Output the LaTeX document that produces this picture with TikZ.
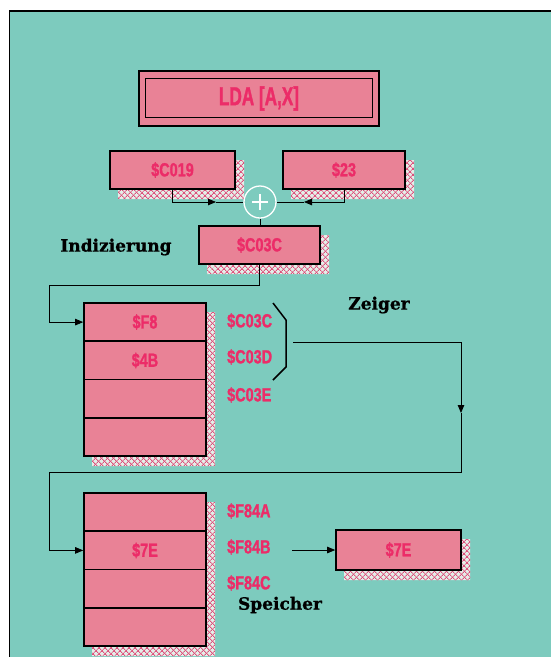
\documentclass[tikz,border=0pt]{standalone}
\usepackage{fontspec}
\usetikzlibrary{arrows.meta,patterns.meta}
\newfontfamily\condfont{Liberation Sans}[FakeStretch=0.76, BoldFeatures={FakeBold=1.2}]
\newfontfamily\ldafont{Liberation Sans}[FakeStretch=0.66, BoldFeatures={FakeBold=1.2}]
\newfontfamily\slabfont{DejaVu Serif}[BoldFeatures={FakeBold=0.8}]
\definecolor{teal1}{RGB}{125,203,190}
\definecolor{pinkfill}{RGB}{233,130,150}
\definecolor{pinktext}{RGB}{236,44,104}
\definecolor{hatch}{RGB}{222,80,124}
\definecolor{shadowbg}{RGB}{228,238,232}
\newcommand{\myshadow}[4]{%
  \path[fill=shadowbg] (#1+8,#4) -- (#3,#4) -- (#3,#2+9) -- (#3+9,#2+9) -- (#3+9,#4+10) -- (#1+8,#4+10) -- cycle;
  \path[pattern={Lines[angle=45,distance=4pt,line width=1pt]},pattern color=hatch] (#1+8,#4) -- (#3,#4) -- (#3,#2+9) -- (#3+9,#2+9) -- (#3+9,#4+10) -- (#1+8,#4+10) -- cycle;
  \path[pattern={Lines[angle=-45,distance=4pt,line width=1pt]},pattern color=hatch] (#1+8,#4) -- (#3,#4) -- (#3,#2+9) -- (#3+9,#2+9) -- (#3+9,#4+10) -- (#1+8,#4+10) -- cycle;
}
\begin{document}
\begin{tikzpicture}[x=1pt,y=-1pt,
  box/.style={draw=black, line width=1.6pt, fill=pinkfill, inner sep=0pt, text=pinktext,
    font=\condfont\bfseries\fontsize{19}{19}\selectfont},
  lbl/.style={inner sep=0pt, anchor=west, text=pinktext, font=\condfont\bfseries\fontsize{19}{19}\selectfont},
  blab/.style={inner sep=0pt, font=\slabfont\bfseries\fontsize{17}{17}\selectfont},
  conn/.style={line width=0.8pt, draw=black},
  arr/.style={conn, -{Triangle[length=8pt,width=6.5pt]}}]
\useasboundingbox (0,0) rectangle (551,657);
\fill[white] (0,0) rectangle (551,657);
\fill[teal1] (9.5,11) rectangle (551,657);
\draw[line width=1.5pt] (9.5,657) -- (9.5,11) -- (551,11);

% shadows
\myshadow{110}{151}{235}{189}
\myshadow{283}{151}{405}{189}
\myshadow{199}{226}{320}{264}
\myshadow{84}{303}{206}{456}
\myshadow{84}{493}{206}{646}
\myshadow{336}{530}{461}{570}

% instruction
\node[box, minimum width=240pt, minimum height=55pt,
  font=\ldafont\bfseries\fontsize{26}{26}\selectfont] (lda) at (259,98.5) {LDA [A,X]};
\node[draw=black, line width=1pt, minimum width=227pt, minimum height=39pt, inner sep=0pt] (ldain) at (258.5,97.5) {};

\node[box, minimum width=125pt, minimum height=38pt] (c019) at (172.5,170) {\$C019};
\node[box, minimum width=122pt, minimum height=38pt] (s23) at (344,170) {\$23};
\node[circle, draw=white, line width=1.3pt, minimum size=32pt, inner sep=0pt] (plus) at (260,202) {};
\draw[white, line width=2.6pt] ([xshift=-8pt]plus.center) -- ([xshift=8pt]plus.center);
\draw[white, line width=2.6pt] ([yshift=-8pt]plus.center) -- ([yshift=8pt]plus.center);
\node[box, minimum width=121pt, minimum height=38pt] (c03c) at (259.5,245) {\$C03C};
\node[blab] (ind) at (116,247) {Indizierung};

% pointer table
\node[box, minimum width=122pt, minimum height=38.25pt] (z1) at (145,322.1) {\$F8};
\node[box, minimum width=122pt, minimum height=38.25pt] (z2) at (145,360.4) {\$4B};
\node[box, minimum width=122pt, minimum height=38.25pt] (z3) at (145,398.6) {};
\node[box, minimum width=122pt, minimum height=38.25pt] (z4) at (145,436.9) {};
\node[lbl] (la1) at (227,321) {\$C03C};
\node[lbl] (la2) at (227,357) {\$C03D};
\node[lbl] (la3) at (227,395) {\$C03E};
\draw[line width=1.5pt] (273,303) -- (286,320) -- (286,367) -- (273,380);
\node[blab] (zeiger) at (379,305) {Zeiger};

% memory table
\node[box, minimum width=122pt, minimum height=38.25pt] (s1) at (145,512.1) {};
\node[box, minimum width=122pt, minimum height=38.25pt] (s2) at (145,550.4) {\$7E};
\node[box, minimum width=122pt, minimum height=38.25pt] (s3) at (145,588.6) {};
\node[box, minimum width=122pt, minimum height=38.25pt] (s4) at (145,626.9) {};
\node[lbl] (lb1) at (227,511) {\$F84A};
\node[lbl] (lb2) at (227,547) {\$F84B};
\node[lbl] (lb3) at (227,583) {\$F84C};
\node[blab] (speicher) at (280,605) {Speicher};
\node[box, minimum width=125pt, minimum height=40pt] (r7e) at (398.5,550) {\$7E};

% connectors
\coordinate (m1) at (216,202);
\coordinate (m2) at (304,202);
\draw[arr] (c019.south) |- (m1);
\draw[conn] (m1) -- (plus);
\draw[arr] (s23.south) |- (m2);
\draw[conn] (m2) -- (plus);
\draw[conn] (plus) -- (plus |- c03c.north);
\coordinate (k1) at (49,285);
\draw[arr] (c03c.south) |- (k1) |- (z1.west);
\coordinate (brk) at (293,342);
\coordinate (r1) at (461,413);
\draw[arr] (brk) -| (r1);
\coordinate (k2) at (49,472);
\draw[arr] (r1) |- (k2) |- (s2.west);
\coordinate (a7) at (292,550);
\draw[arr] (a7) -- (r7e);
\end{tikzpicture}
\end{document}
